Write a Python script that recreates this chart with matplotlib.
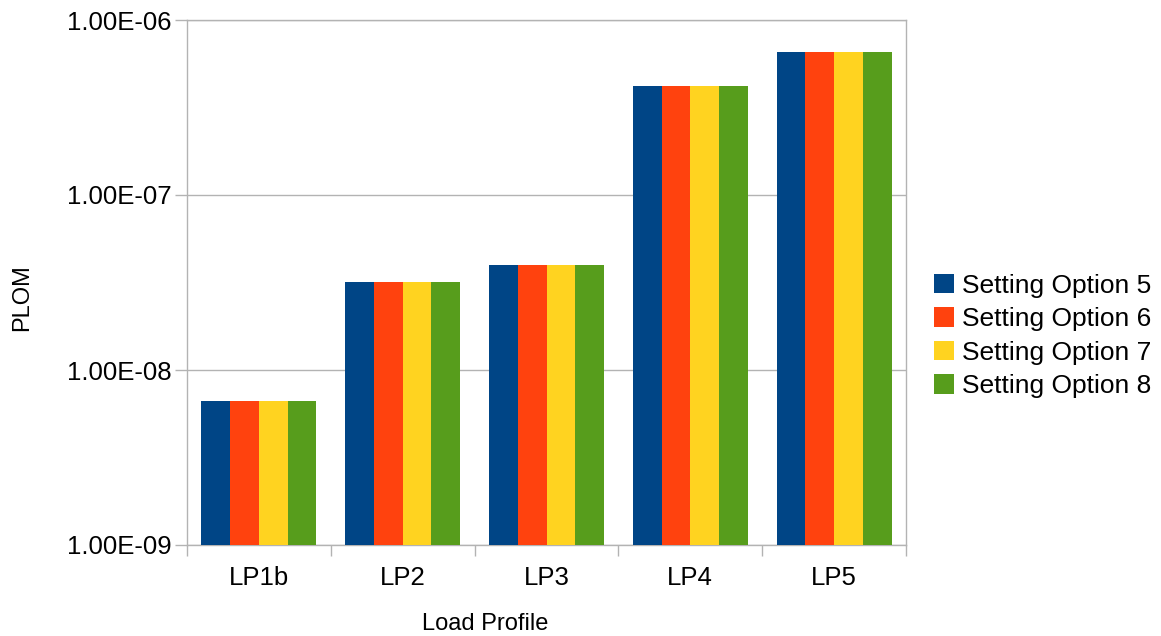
import matplotlib.pyplot as plt
import numpy as np

plt.rcParams['font.family'] = ['Liberation Sans', 'DejaVu Sans']

profiles = ['LP1b', 'LP2', 'LP3', 'LP4', 'LP5']
series = ['Setting Option 5', 'Setting Option 6', 'Setting Option 7', 'Setting Option 8']
opt5 = [6.65e-9, 3.18e-8, 3.98e-8, 4.2e-7, 6.56e-7]
opt6 = [6.65e-9, 3.18e-8, 3.98e-8, 4.2e-7, 6.56e-7]
opt7 = [6.65e-9, 3.18e-8, 3.98e-8, 4.2e-7, 6.56e-7]
opt8 = [6.65e-9, 3.18e-8, 3.98e-8, 4.2e-7, 6.56e-7]
colors = ['#004586', '#ff420e', '#ffd320', '#579d1c']
ytick_vals = [1e-9, 1e-8, 1e-7, 1e-6]
ytick_labels = ['1.00E-09', '1.00E-08', '1.00E-07', '1.00E-06']

grey = '#b3b3b3'

fig = plt.figure(figsize=(11.61, 6.36), dpi=100)
ax = fig.add_axes([187/1161, 1-545/636, (906-187)/1161, (545-20)/636])

x = np.arange(len(profiles))
w = 0.2
for i, (vals, name) in enumerate(zip([opt5, opt6, opt7, opt8], series)):
    ax.bar(x + (i - 1.5) * w, vals, width=w, color=colors[i], label=name, zorder=3)

ax.set_yscale('log')
ax.set_ylim(1e-9, 1e-6)
ax.set_xlim(-0.5, len(profiles) - 0.5)

ax.set_yticks(ytick_vals)
ax.set_yticklabels(ytick_labels)
ax.yaxis.set_minor_locator(plt.NullLocator())
ax.grid(axis='y', color=grey, linewidth=1, zorder=0)

ax.set_xticks(x)
ax.set_xticklabels(profiles)
ax.set_xticks(np.arange(len(profiles) + 1) - 0.5, minor=True)
ax.tick_params(axis='x', which='major', length=0, pad=15, labelsize=18.5)
ax.tick_params(axis='x', which='minor', length=8, width=1, color=grey)
ax.tick_params(axis='y', which='major', length=9, width=1, color=grey, pad=2, labelsize=18.5)

for s in ax.spines.values():
    s.set_color(grey)
    s.set_linewidth(1)

ax.set_xlabel('Load Profile', fontsize=17)
ax.xaxis.set_label_coords((485-187)/719, (545-613)/525)
ax.set_ylabel('PLOM', fontsize=17)
ax.yaxis.set_label_coords((33-187)/719, (545-298)/525)

fig.legend(loc='center left', bbox_to_anchor=(934/1161, 1-336/636), frameon=False,
           fontsize=19, handlelength=0.75, handleheight=0.75, handletextpad=0.3,
           labelspacing=0.36, borderpad=0, borderaxespad=0)

fig.savefig('out.png', dpi=100)
